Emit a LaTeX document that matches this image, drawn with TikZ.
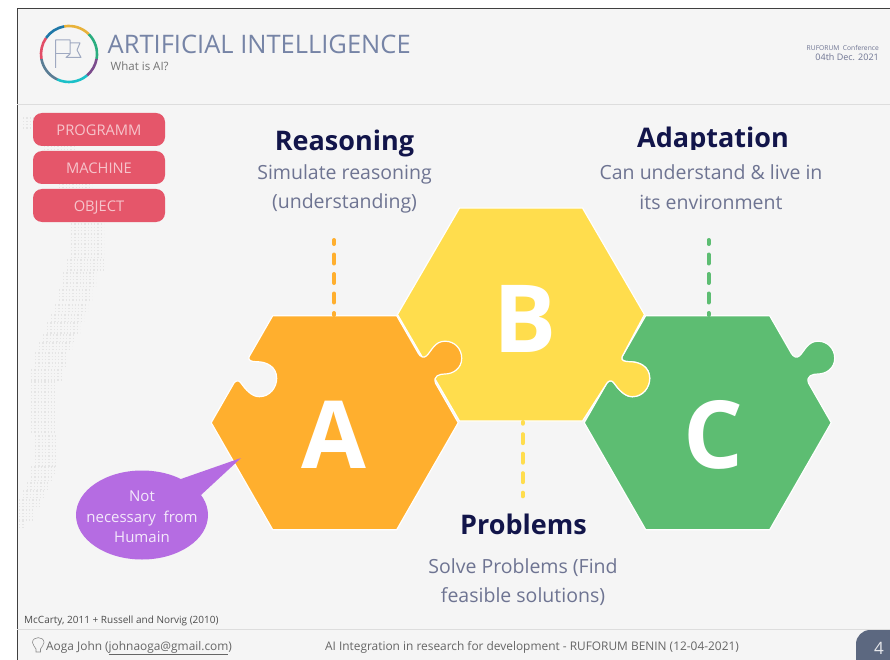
\documentclass[tikz,border=0pt]{standalone}
\usepackage{fontspec}
\setmainfont{Open Sans}

\definecolor{pagebg}{HTML}{F5F5F5}
\definecolor{rulegray}{HTML}{DDDDDD}
\definecolor{titleblue}{HTML}{7684A6}
\definecolor{bodyblue}{HTML}{6E7492}
\definecolor{headnavy}{HTML}{12154A}
\definecolor{pillred}{HTML}{E5566A}
\definecolor{hexorange}{HTML}{FFAF2E}
\definecolor{hexyellow}{HTML}{FFDD4D}
\definecolor{hexgreen}{HTML}{5DBD72}
\definecolor{bubblepurple}{HTML}{B56CE2}
\definecolor{tabslate}{HTML}{5C6880}

\newcommand{\fsize}[2]{\fontsize{#1}{#2}\selectfont}

\tikzset{
    pill/.style={fill=pillred, rounded corners=9pt, minimum width=132pt, minimum height=33pt,
        inner sep=0pt, text height=12pt, text depth=0pt, text=pillred!35!white, font=\fsize{14.7}{18}},
    head/.style={anchor=base, text=headnavy, font=\fsize{27}{32}\bfseries},
    body/.style={align=center, text=bodyblue, font=\fsize{19.5}{29.5}},
    letter/.style={anchor=base, text=white, font=\fsize{94}{100}\bfseries},
    dotrow/.style={draw=black!10, line width=1.3pt, dash pattern=on 1.3pt off 2pt},
    link/.style={line width=4pt, line cap=round, dash pattern=on 9pt off 10.5pt},
    foot/.style={anchor=base, text=black!60, font=\fsize{11.9}{15}},
}

\newcommand{\puzzlehex}[3]{
    \filldraw[#3, draw=white, line width=1.2pt, shift={(#1,#2)}]
        (-62,-107) -- (62,-107) -- (83.6,-69.4)
        .. controls (85.5,-66) and (89,-64) .. (92,-67)
        .. controls (97,-72) and (100,-81.5) .. (110.3,-81.5)
        .. controls (120,-81.5) and (127,-74) .. (127,-64.4)
        .. controls (127,-54) and (118,-48.7) .. (110.3,-48.7)
        .. controls (105,-48.7) and (98,-47) .. (100.9,-39.4)
        -- (123.5,0) -- (62,107) -- (-62,107) -- (-123.5,0) -- (-100.9,-39.4)
        .. controls (-99.5,-42) and (-96,-43) .. (-94,-40)
        .. controls (-89,-33) and (-83,-26) .. (-75.4,-26)
        .. controls (-65,-26) and (-58,-35) .. (-58,-44.4)
        .. controls (-58,-56) and (-68,-61) .. (-78,-61)
        .. controls (-83,-61) and (-87,-62) .. (-85.6,-66) -- cycle;
}

\begin{document}
\begin{tikzpicture}[x=1pt, y=-1pt]
    \useasboundingbox (0,0) rectangle (890,660);
    \fill[pagebg] (17,9) rectangle (890,660);
    \draw[black!75, line width=1pt] (890,9) -- (17,9) -- (17,660);
    \draw[rulegray] (17,104) -- (890,104);
    \draw[rulegray] (17,629) -- (890,629);

    \foreach \ya/\yb/\xl/\xr in {118/128/23/33, 146/150/44/76, 184/188/59/92, 224/259/71/104, 260/272/67/104,
        273/288/63/96, 290/303/59/92, 305/313/55/88, 315/322/51/84, 323/333/47/80, 335/342/43/73, 343/352/39/72,
        353/368/35/65, 370/380/31/61, 382/435/31/57, 436/466/35/57, 467/475/31/57, 477/482/31/53, 483/490/27/49,
        491/498/23/45, 500/508/19/41, 510/520/19/33, 521/528/19/25}{
        \pgfmathsetmacro{\yc}{\ya+3.33}
        \foreach \y in {\ya,\yc,...,\yb}
            \draw[dotrow] (\xl,\y) -- (\xr,\y);
    }

    \foreach \sa/\sb/\col in {100/45/E8B23A, 45/-10/2AAD7F, -10/-50/7B4B8C, -50/-115/1BC0C8,
        -115/-170/5A7D95, -170/-215/E24D67, 145/100/1F78A8}{
        \definecolor{arccol}{HTML}{\col}
        \draw[arccol, line width=2.6pt] (69,54) ++(\sa:28pt) arc[start angle=\sa, end angle=\sb, radius=28pt];
    }
    \draw[titleblue!70, line width=1pt, line join=round] (55.7,68) -- (55.7,40) -- (70,40) -- (70,54) -- (66,57.5) -- (81,57.5) -- (77,50) -- (80,43) -- (70,43);
    \draw[titleblue!70, line width=1pt] (55.7,54) -- (70,54);

    \node[anchor=base west, inner sep=0pt, text=titleblue, font=\fsize{25.5}{30}] (title) at (107.5,53.5) {ARTIFICIAL INTELLIGENCE};
    \node[anchor=base west, inner sep=0pt, text=black!55, font=\fsize{11.5}{14}] (subtitle) at (110.5,71) {What is AI?};
    \node[anchor=base east, inner sep=0pt, text=bodyblue, font=\fsize{6.7}{9}] (conf) at (879,51) {RUFORUM\ \ Conference};
    \node[anchor=base east, inner sep=0pt, text=bodyblue, font=\fsize{9}{11}] (date) at (879,61) {04th Dec. 2021};

    \node[pill] (programm) at (99,129.5) {PROGRAMM};
    \node[pill] (machine) at (99,167.5) {MACHINE};
    \node[pill] (object) at (99,205.5) {OBJECT};

    \puzzlehex{707.7}{422.7}{hexgreen}
    \filldraw[hexyellow, draw=white, line width=1.2pt, shift={(521,314.5)}]
        (-61.5,-106.5) -- (61.5,-106.5) -- (123.5,0) -- (101.1,42.2)
        .. controls (99.7,46.2) and (103.7,47.2) .. (108.7,47.2)
        .. controls (118.7,47.2) and (128.7,52.2) .. (128.7,63.8)
        .. controls (128.7,73.2) and (121.7,82.2) .. (111.3,82.2)
        .. controls (103.7,82.2) and (97.7,75.2) .. (92.7,68.2)
        .. controls (90.7,65.2) and (87.2,66.2) .. (85.8,68.8)
        -- (61.5,106.5) -- (-61.5,106.5) -- (-123.5,0) -- cycle;
    \puzzlehex{334.7}{422.7}{hexorange}

    \node[letter] (a) at (334,468) {A};
    \node[letter] (b) at (525,352) {B};
    \node[letter] (c) at (713,468) {C};

    \coordinate (reasoningend) at (334,240);
    \coordinate (atop) at (334,315);
    \coordinate (adaptationend) at (708.5,240);
    \coordinate (ctop) at (708.5,315);
    \coordinate (bbottom) at (522.7,422);
    \coordinate (problemsend) at (522.7,496.3);
    \draw[link, hexorange, dash phase=5pt] (reasoningend) -- (atop);
    \draw[link, hexgreen, dash phase=5pt] (adaptationend) -- (ctop);
    \draw[link, hexyellow, dash phase=7.3pt] (bbottom) -- (problemsend);

    \node[head] (reasoning) at (344.5,151) {Reasoning};
    \node[body] (reasoningtext) at (344.5,189) {Simulate reasoning\\(understanding)};
    \node[head] (adaptation) at (713,148) {Adaptation};
    \fill[pagebg] (630,150) rectangle (800,156);
    \node[body] (adaptationtext) at (711,187) {Can understand \& live in\\its environment};
    \node[head] (problems) at (523.5,534) {Problems};
    \node[body] (problemstext) at (523,582) {Solve Problems (Find\\feasible solutions)};

    \fill[bubblepurple] (142,515) ellipse [x radius=66pt, y radius=44.5pt];
    \fill[bubblepurple] (178,480) -- (241,458) -- (201,495) -- cycle;
    \node[align=center, inner sep=0pt, text=white!85!bubblepurple, font=\fsize{15}{20.5}] (note) at (142,517) {Not\\necessary\ \ from\\Humain};

    \node[anchor=base west, inner sep=0pt, text=black!70, font=\fsize{10}{13}] (source) at (24,623) {McCarty, 2011 + Russell and Norvig (2010)};

    \draw[black!45, line width=0.6pt] (36,652) -- (36,649) .. controls (35,646) and (32.5,645.5) .. (32.5,642.5)
        .. controls (32.5,636) and (44,636) .. (44,642.5) .. controls (44,645.5) and (41.5,646) .. (40.5,649) -- (40.5,652) -- cycle;
    \node[foot, anchor=base west, inner sep=0pt] (contact) at (46,650) {Aoga John (\underline{johnaoga@gmail.com})};
    \node[foot, inner sep=0pt] (event) at (532,650) {AI Integration in research for development - RUFORUM BENIN (12-04-2021)};

    \fill[tabslate] (856,660) -- (856,644) arc[start angle=180, end angle=90, radius=14pt] -- (890,630) -- (890,660) -- cycle;
    \node[inner sep=0pt, text=white!85!tabslate, font=\fsize{17}{20}] (pagenum) at (879,648) {4};
\end{tikzpicture}
\end{document}
